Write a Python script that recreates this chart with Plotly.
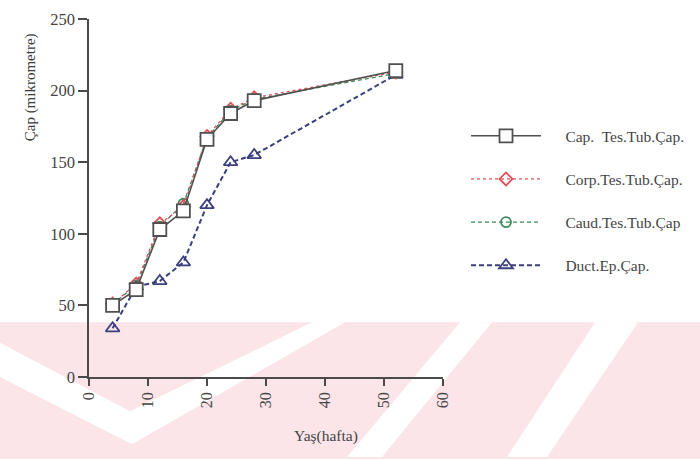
import plotly.graph_objects as go

weeks = [4, 8, 12, 16, 20, 24, 28, 52]
cap = [50, 61, 103, 116, 166, 184, 193, 214]
corp = [51, 65, 107, 119, 168, 187, 195, 213]
caud = [51, 64, 105, 121, 167, 186, 194, 212]
duct = [34, 63, 67, 80, 120, 150, 155, 211]

names = ["Cap.  Tes.Tub.Çap.", "Corp.Tes.Tub.Çap.", "Caud.Tes.Tub.Çap", "Duct.Ep.Çap."]
x_ticks = [0, 10, 20, 30, 40, 50, 60]
y_ticks = [0, 50, 100, 150, 200, 250]

FONT = "Liberation Serif"
AX = "#4a4a4a"
TXT = "#444444"
PAD = "\u00a0" * 5

def px(xp, yp):
    # figure pixel -> paper coords (plot area spans x 89..443, y 10..377)
    return (xp - 89) / 354.0, (377 - yp) / 367.0

fig = go.Figure()

styles = [
    (duct, names[3], "#3b3f7e", "5px,3px", "triangle-up-open", 2.0, 12, 4),
    (caud, names[2], "#3c8a5c", "4px,3px", "circle-open", 1.3, 10, 3),
    (corp, names[1], "#e0505a", "dot", "diamond-open", 1.3, 10, 2),
    (cap, names[0], "#505050", "solid", "square", 1.6, 13, 1),
]
for ys, nm, col, dash, sym, w, sz, rank in styles:
    fig.add_trace(go.Scatter(
        x=weeks, y=ys, name=PAD + nm, mode="lines+markers",
        line=dict(color=col, dash=dash, width=w),
        marker=dict(symbol=sym, size=sz,
                    color="white" if sym == "square" else col,
                    line=dict(width=1.8, color=col)),
        legendgroup=nm, legendrank=rank,
    ))

# pale watermark-like background bands (decoration)
PINK = "#fbe5e8"
shapes = [dict(type="rect", xref="paper", yref="paper", x0=-0.3, x1=1.8, y0=-0.23,
               y1=px(0, 321)[1], fillcolor=PINK, line_width=0, layer="below")]
def path(pts):
    s = ""
    for i, (a, b) in enumerate(pts):
        X, Y = px(a, b)
        s += ("M" if i == 0 else "L") + f"{X:.4f},{Y:.4f} "
    return s + "Z"
white_polys = [
    [(0, 342), (130, 412), (312, 321), (345, 321), (132, 446), (0, 377)],
    [(460, 321), (492, 321), (382, 459), (347, 459)],
    [(595, 321), (638, 321), (547, 459), (507, 459)],
]
for poly in white_polys:
    shapes.append(dict(type="path", xref="paper", yref="paper", path=path(poly),
                       fillcolor="white", line_width=0, layer="below"))

yt_x, yt_y = px(30, 80)
xt_x, xt_y = px(326, 437)

fig.update_layout(
    width=700, height=459,
    margin=dict(l=89, r=257, t=10, b=82),
    paper_bgcolor="white", plot_bgcolor="rgba(0,0,0,0)",
    font=dict(family=FONT, color=TXT, size=15),
    shapes=shapes,
    showlegend=True,
    legend=dict(
        x=1.065, y=0.72, xanchor="left", yanchor="top",
        bgcolor="rgba(0,0,0,0)", itemwidth=70,
        traceorder="grouped", tracegroupgap=20,
        font=dict(family=FONT, size=15.5, color=TXT),
    ),
    annotations=[
        dict(text="Çap (mikrometre)", x=yt_x, y=yt_y, xref="paper", yref="paper",
             xanchor="center", yanchor="middle",
             textangle=-90, showarrow=False, font=dict(family=FONT, size=15, color="#3a3a3a")),
        dict(text="Yaş(hafta)", x=xt_x, y=xt_y, xref="paper", yref="paper",
             xanchor="center", yanchor="middle",
             showarrow=False, font=dict(family=FONT, size=15.5, color=TXT)),
    ],
)

fig.update_xaxes(
    range=[0, 60], tickvals=x_ticks, ticks="outside", ticklen=7, tickwidth=1.5,
    tickcolor=AX, showline=True, linecolor=AX, linewidth=1.6, showgrid=False,
    zeroline=False, tickangle=-90, tickfont=dict(family=FONT, size=16, color=TXT),
)
fig.update_yaxes(
    range=[0, 250], tickvals=y_ticks, ticks="outside", ticklen=9, tickwidth=1.5,
    tickcolor=AX, showline=True, linecolor=AX, linewidth=1.6, showgrid=False,
    zeroline=False, tickfont=dict(family=FONT, size=16.5, color=TXT),
)

fig.write_html("out.html")
